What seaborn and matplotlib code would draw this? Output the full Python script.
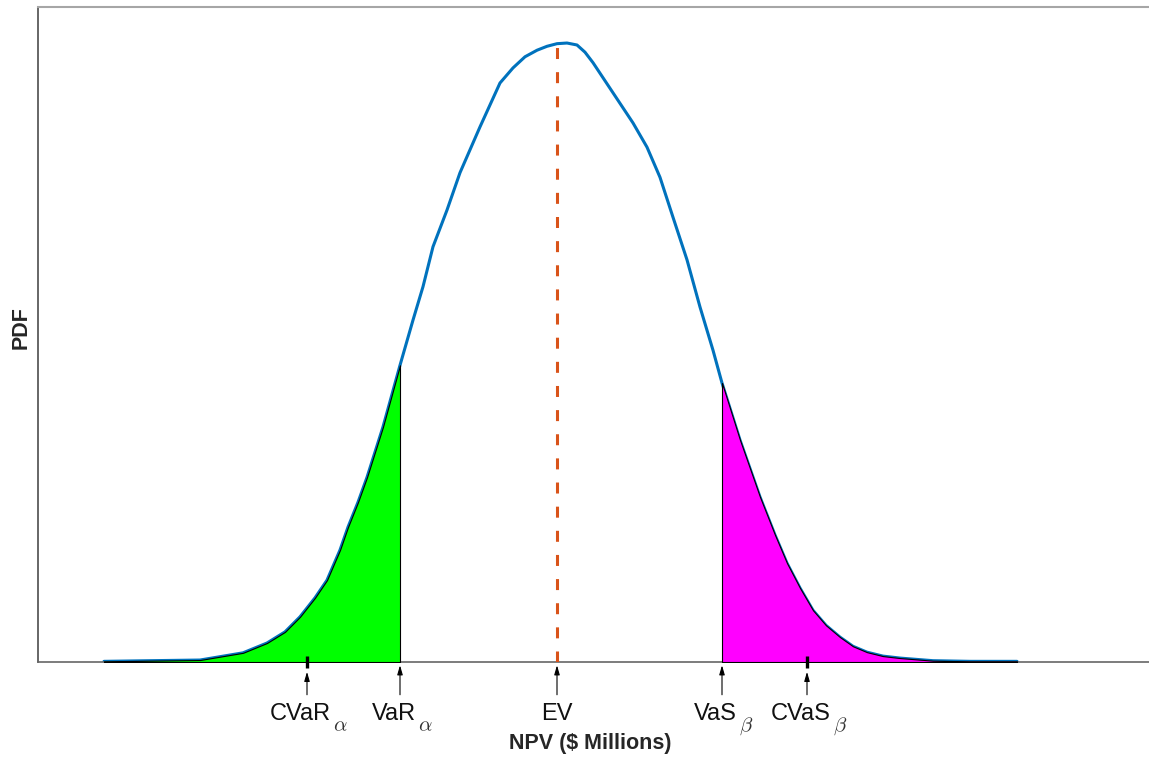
import matplotlib
matplotlib.use("Agg")
import matplotlib.pyplot as plt
import seaborn as sns
import numpy as np
import pandas as pd

# ---- data (NPV in arbitrary $M units, PDF scaled to 1) ----
npv = [13.2, 22.4, 32.4, 41.0, 45.8, 49.4, 52.4, 55.4, 57.8, 60.4, 62.0, 64.0,
       65.8, 69.0, 72.4, 75.0, 77.0, 79.0, 81.8, 84.4, 88.4, 92.4, 95.0, 97.4,
       99.8, 101.8, 103.8, 105.8, 107.8, 109.4, 111.0, 115.0, 119.0, 121.8,
       124.4, 127.0, 129.8, 132.4, 135.0, 136.8, 140.4, 144.4, 147.4, 149.8,
       152.4, 155.0, 157.6, 160.4, 163.0, 165.8, 169.0, 172.4, 179.0, 186.4, 195.8]
pdf = [0.001, 0.002, 0.003, 0.014, 0.029, 0.046, 0.069, 0.098, 0.125, 0.171,
       0.206, 0.244, 0.282, 0.359, 0.453, 0.522, 0.573, 0.634, 0.690, 0.747,
       0.817, 0.884, 0.907, 0.924, 0.934, 0.940, 0.944, 0.945, 0.942, 0.931,
       0.915, 0.869, 0.823, 0.786, 0.740, 0.679, 0.614, 0.542, 0.476, 0.426,
       0.339, 0.252, 0.194, 0.151, 0.113, 0.079, 0.056, 0.038, 0.024, 0.015,
       0.009, 0.006, 0.002, 0.001, 0.001]

cvar_alpha = 53.8
var_alpha = 72.4
ev = 103.8
vas_beta = 136.8
cvas_beta = 153.8

marker_main = ["CVaR", "VaR", "EV", "VaS", "CVaS"]
marker_sub = ["$\\alpha$", "$\\alpha$", "", "$\\beta$", "$\\beta$"]
marker_values = [cvar_alpha, var_alpha, ev, vas_beta, cvas_beta]

x_min, x_max = 0.0, 222.2
y_min, y_max = 0.0, 1.0

# ---- style ----
sns.set_style("white")
plt.rcParams["font.family"] = ["Liberation Sans", "DejaVu Sans"]
plt.rcParams["mathtext.fontset"] = "cm"

df = pd.DataFrame({"NPV": npv, "PDF": pdf})
x = np.array(npv)
y = np.array(pdf)

fig = plt.figure(figsize=(11.49, 7.61), dpi=100)
ax = fig.add_axes([38 / 1149, 1 - 662 / 761, 1111 / 1149, 655 / 761])

# curve
sns.lineplot(data=df, x="NPV", y="PDF", ax=ax, color="#0072BD", linewidth=2.2,
             sort=False, estimator=None, zorder=2)

# shaded tails (drawn over the curve, black edge)
left = x <= var_alpha
right = x >= vas_beta
ax.fill_between(x[left], y[left], 0, facecolor="#00FF00", edgecolor="black",
                linewidth=0.8, zorder=3)
ax.fill_between(x[right], y[right], 0, facecolor="#FF00FF", edgecolor="black",
                linewidth=0.8, zorder=3)

# EV dashed line
ev_height = float(np.interp(ev, x, y))
ax.plot([ev, ev], [0, ev_height], color="#D95319", linewidth=2.2,
        dashes=(3.6, 4.3), zorder=4)

# tick marks for conditional values
for v in (cvar_alpha, cvas_beta):
    ax.plot([v, v], [-0.009, 0.009], color="black", linewidth=2.4,
            solid_capstyle="butt", clip_on=False, zorder=5)

# arrows and labels
for main, sub, v in zip(marker_main, marker_sub, marker_values):
    tip = -0.015 if v in (cvar_alpha, cvas_beta) else -0.005
    ax.annotate("", xy=(v, tip), xytext=(v, -0.050),
                arrowprops=dict(arrowstyle="-|>,head_length=0.55,head_width=0.16",
                                color="black", lw=0.8, shrinkA=0, shrinkB=0),
                annotation_clip=False)
    shift = -4.5 if sub else 0.0
    t = ax.annotate(main, xy=(v, -0.0885), xytext=(shift, 0),
                    textcoords="offset points", ha="center", va="baseline",
                    fontsize=17, color="#111111", annotation_clip=False)
    if sub:
        ax.annotate(sub, xy=(1, 0), xycoords=t, xytext=(1.5, -4.5),
                    textcoords="offset points", ha="left", va="baseline",
                    fontsize=15, color="#333333", annotation_clip=False)

ax.set_xlim(x_min, x_max)
ax.set_ylim(y_min, y_max)
ax.set_xticks([])
ax.set_yticks([])

ax.set_xlabel("NPV ($ Millions)", fontsize=15.5, fontweight="bold", color="#262626")
ax.xaxis.set_label_coords(0.497, -0.108)
ax.set_ylabel("PDF", fontsize=15.5, fontweight="bold", color="#262626")
ax.yaxis.set_label_coords(-0.006, 0.51)

for s in ax.spines.values():
    s.set_visible(True)
ax.spines["right"].set_visible(False)
ax.spines["top"].set_color("#a6a6a6")
ax.spines["top"].set_linewidth(1.5)
ax.spines["left"].set_color("#4d4d4d")
ax.spines["left"].set_linewidth(1.2)
ax.spines["bottom"].set_color("#666666")
ax.spines["bottom"].set_linewidth(1.2)

fig.savefig("out.png", dpi=100, facecolor="white")
